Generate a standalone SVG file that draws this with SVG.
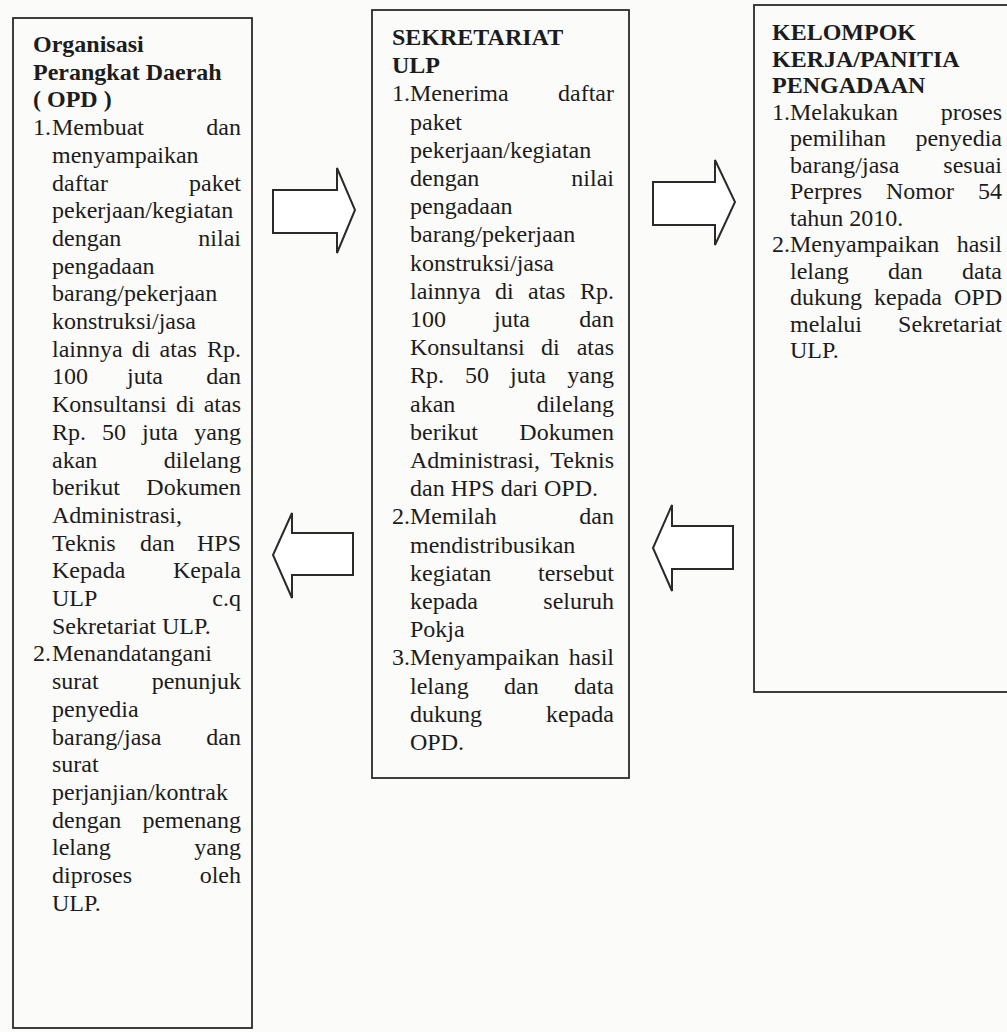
<svg xmlns="http://www.w3.org/2000/svg" width="1007" height="1032" viewBox="0 0 1007 1032">
<style>
.box{fill:none;stroke:#2a2a2a;stroke-width:1.8}
.arrow{fill:#fff;stroke:#2a2a2a;stroke-width:2;stroke-linejoin:miter}
text{font-family:"Liberation Serif","Times New Roman",serif;font-size:24px;fill:#1c1c1c}
.b{font-weight:bold}
.e{text-anchor:end}
</style>
<rect x="0" y="0" width="1007" height="1032" fill="#fbfbfa"/>

<g id="opd">
<rect class="box" x="13" y="18" width="239" height="1010"/>
<text class="b" x="33" y="52">Organisasi</text>
<text class="b" x="33" y="79.7">Perangkat Daerah</text>
<text class="b" x="33" y="107.4">( OPD )</text>
<text y="135.1"><tspan x="33">1.</tspan><tspan x="52">Membuat</tspan><tspan x="241" class="e">dan</tspan></text>
<text x="52" y="162.8">menyampaikan</text>
<text y="190.5"><tspan x="52">daftar</tspan><tspan x="241" class="e">paket</tspan></text>
<text x="52" y="218.2">pekerjaan/kegiatan</text>
<text y="245.9"><tspan x="52">dengan</tspan><tspan x="241" class="e">nilai</tspan></text>
<text x="52" y="273.6">pengadaan</text>
<text x="52" y="301.3">barang/pekerjaan</text>
<text x="52" y="329">konstruksi/jasa</text>
<text y="356.7"><tspan x="52">lainnya</tspan><tspan x="131.8">di</tspan><tspan x="159.6">atas</tspan><tspan x="241" class="e">Rp.</tspan></text>
<text y="384.4"><tspan x="52">100</tspan><tspan x="127">juta</tspan><tspan x="241" class="e">dan</tspan></text>
<text y="412.1"><tspan x="52">Konsultansi</tspan><tspan x="176">di</tspan><tspan x="241" class="e">atas</tspan></text>
<text y="439.8"><tspan x="52">Rp.</tspan><tspan x="102">50</tspan><tspan x="142">juta</tspan><tspan x="241" class="e">yang</tspan></text>
<text y="467.5"><tspan x="52">akan</tspan><tspan x="241" class="e">dilelang</tspan></text>
<text y="495.2"><tspan x="52">berikut</tspan><tspan x="241" class="e">Dokumen</tspan></text>
<text x="52" y="522.9">Administrasi,</text>
<text y="550.6"><tspan x="52">Teknis</tspan><tspan x="140">dan</tspan><tspan x="241" class="e">HPS</tspan></text>
<text y="578.3"><tspan x="52">Kepada</tspan><tspan x="241" class="e">Kepala</tspan></text>
<text y="606"><tspan x="52">ULP</tspan><tspan x="241" class="e">c.q</tspan></text>
<text x="52" y="633.7">Sekretariat ULP.</text>
<text y="661.4"><tspan x="33">2.</tspan><tspan x="52">Menandatangani</tspan></text>
<text y="689.1"><tspan x="52">surat</tspan><tspan x="241" class="e">penunjuk</tspan></text>
<text x="52" y="716.8">penyedia</text>
<text y="744.5"><tspan x="52">barang/jasa</tspan><tspan x="241" class="e">dan</tspan></text>
<text x="52" y="772.2">surat</text>
<text x="52" y="799.9">perjanjian/kontrak</text>
<text y="827.6"><tspan x="52">dengan</tspan><tspan x="241" class="e">pemenang</tspan></text>
<text y="855.3"><tspan x="52">lelang</tspan><tspan x="241" class="e">yang</tspan></text>
<text y="883"><tspan x="52">diproses</tspan><tspan x="241" class="e">oleh</tspan></text>
<text x="52" y="910.7">ULP.</text>
</g>

<g id="sekretariat">
<rect class="box" x="372" y="10" width="257" height="768"/>
<text class="b" x="392" y="45">SEKRETARIAT</text>
<text class="b" x="392" y="73.2">ULP</text>
<text y="101.4"><tspan x="392">1.</tspan><tspan x="410">Menerima</tspan><tspan x="614" class="e">daftar</tspan></text>
<text x="410" y="129.6">paket</text>
<text x="410" y="157.8">pekerjaan/kegiatan</text>
<text y="186"><tspan x="410">dengan</tspan><tspan x="614" class="e">nilai</tspan></text>
<text x="410" y="214.2">pengadaan</text>
<text x="410" y="242.4">barang/pekerjaan</text>
<text x="410" y="270.6">konstruksi/jasa</text>
<text y="298.8"><tspan x="410">lainnya</tspan><tspan x="495">di</tspan><tspan x="528">atas</tspan><tspan x="614" class="e">Rp.</tspan></text>
<text y="327"><tspan x="410">100</tspan><tspan x="494">juta</tspan><tspan x="614" class="e">dan</tspan></text>
<text y="355.2"><tspan x="410">Konsultansi</tspan><tspan x="541">di</tspan><tspan x="614" class="e">atas</tspan></text>
<text y="383.4"><tspan x="410">Rp.</tspan><tspan x="465">50</tspan><tspan x="510">juta</tspan><tspan x="614" class="e">yang</tspan></text>
<text y="411.6"><tspan x="410">akan</tspan><tspan x="614" class="e">dilelang</tspan></text>
<text y="439.8"><tspan x="410">berikut</tspan><tspan x="614" class="e">Dokumen</tspan></text>
<text y="468"><tspan x="410">Administrasi,</tspan><tspan x="614" class="e">Teknis</tspan></text>
<text x="410" y="496.2">dan HPS dari OPD.</text>
<text y="524.4"><tspan x="392">2.</tspan><tspan x="410">Memilah</tspan><tspan x="614" class="e">dan</tspan></text>
<text x="410" y="552.6">mendistribusikan</text>
<text y="580.8"><tspan x="410">kegiatan</tspan><tspan x="614" class="e">tersebut</tspan></text>
<text y="609"><tspan x="410">kepada</tspan><tspan x="614" class="e">seluruh</tspan></text>
<text x="410" y="637.2">Pokja</text>
<text y="665.4"><tspan x="392">3.</tspan><tspan x="410">Menyampaikan</tspan><tspan x="614" class="e">hasil</tspan></text>
<text y="693.6"><tspan x="410">lelang</tspan><tspan x="504">dan</tspan><tspan x="614" class="e">data</tspan></text>
<text y="721.8"><tspan x="410">dukung</tspan><tspan x="614" class="e">kepada</tspan></text>
<text x="410" y="750">OPD.</text>
</g>

<g id="pokja">
<rect class="box" x="754" y="5" width="262" height="687"/>
<text class="b" x="772" y="40">KELOMPOK</text>
<text class="b" x="772" y="66.5">KERJA/PANITIA</text>
<text class="b" x="772" y="93">PENGADAAN</text>
<text y="119.5"><tspan x="772">1.</tspan><tspan x="790">Melakukan</tspan><tspan x="1002" class="e">proses</tspan></text>
<text y="146"><tspan x="790">pemilihan</tspan><tspan x="1002" class="e">penyedia</tspan></text>
<text y="172.5"><tspan x="790">barang/jasa</tspan><tspan x="1002" class="e">sesuai</tspan></text>
<text y="199"><tspan x="790">Perpres</tspan><tspan x="886">Nomor</tspan><tspan x="1002" class="e">54</tspan></text>
<text x="790" y="225.5">tahun 2010.</text>
<text y="252"><tspan x="772">2.</tspan><tspan x="790">Menyampaikan</tspan><tspan x="1002" class="e">hasil</tspan></text>
<text y="278.5"><tspan x="790">lelang</tspan><tspan x="888">dan</tspan><tspan x="1002" class="e">data</tspan></text>
<text y="305"><tspan x="790">dukung</tspan><tspan x="874">kepada</tspan><tspan x="1002" class="e">OPD</tspan></text>
<text y="331.5"><tspan x="790">melalui</tspan><tspan x="1002" class="e">Sekretariat</tspan></text>
<text x="790" y="358">ULP.</text>
</g>

<g id="connectors">
<polygon class="arrow" points="273,190 337,190 337,168 355,210 337,253 337,233 273,233"/>
<polygon class="arrow" points="653,182 715,182 715,160 735,202 715,245 715,225 653,225"/>
<polygon class="arrow" points="353,533 292,533 292,513 273,555 292,598 292,575 353,575"/>
<polygon class="arrow" points="733,526 672,526 672,505 653,548 672,591 672,569 733,569"/>
</g>
</svg>
